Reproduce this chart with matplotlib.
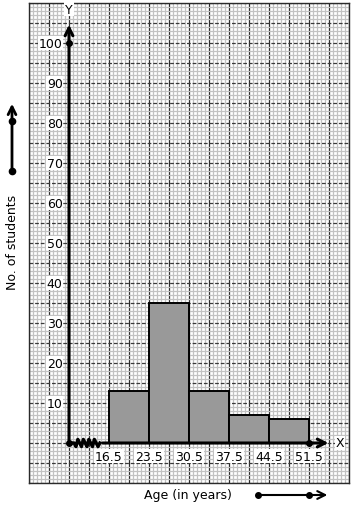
import numpy as np
import matplotlib
matplotlib.use("Agg")
import matplotlib.pyplot as plt

# データ
class_bounds = [16.5, 23.5, 30.5, 37.5, 44.5, 51.5]
frequencies = [13, 35, 13, 7, 6]
y_ticks = [10, 20, 30, 40, 50, 60, 70, 80, 90, 100]

W, H = 354, 510
fig = plt.figure(figsize=(W/100, H/100), dpi=100)
ax = fig.add_axes([29/W, 26/H, 320/W, 480/H])

x0 = class_bounds[0] - 7  # Y軸の位置
ax.set_xlim(x0 - 7, class_bounds[-1] + 7)
ax.set_ylim(-10, 110)

# 方眼紙
ax.set_xticks(np.arange(x0 - 7, class_bounds[-1] + 7.01, 3.5))
ax.set_xticks(np.arange(x0 - 7, class_bounds[-1] + 7.01, 0.7), minor=True)
ax.set_yticks(np.arange(-10, 110.1, 5))
ax.set_yticks(np.arange(-10, 110.1, 1), minor=True)
ax.grid(which="minor", color="#c2c2c2", lw=0.9)
ax.xaxis.grid(True, which="major", color="#2a2a2a", lw=0.9)
ax.yaxis.grid(True, which="major", color="#3a3a3a", lw=0.9, ls=(0, (3, 1.5)))
ax.tick_params(which="both", length=0, labelbottom=False, labelleft=False)
ax.set_axisbelow(True)
for s in ax.spines.values():
    s.set_color("#2a2a2a")
    s.set_linewidth(1.0)

# ヒストグラム
widths = np.diff(class_bounds)
ax.bar(class_bounds[:-1], frequencies, width=widths, align="edge",
       color="#999999", edgecolor="black", lw=1.4, zorder=3)

# 軸
ax.annotate("", xy=(x0, 105.3), xytext=(x0, 0),
            arrowprops=dict(arrowstyle="->", lw=2.2, color="black",
                            mutation_scale=14), zorder=5)
ax.annotate("", xy=(class_bounds[-1] + 3.9, 0), xytext=(14.9, 0),
            arrowprops=dict(arrowstyle="->", lw=2.2, color="black",
                            mutation_scale=14), zorder=5)
zx = np.linspace(x0 + 0.9, 14.9, 15)
zy = np.array([0, -0.9, 0.9] * 5)[:15]
zy[0] = 0
zy[-1] = 0
ax.plot(np.r_[x0, zx], np.r_[0, zy], color="black", lw=2.4, zorder=5)
ax.plot([x0, x0, class_bounds[-1]], [0, 100, 0], "ko", ms=4, zorder=6)

bb = dict(facecolor="white", edgecolor="none", pad=0.5)
for v in y_ticks:
    ax.annotate(str(v), (x0, v), xytext=(-4.5, 0), textcoords="offset points",
                ha="right", va="center", fontsize=9, bbox=bb, zorder=4)
for b in class_bounds:
    ax.annotate(str(b), (b, 0), xytext=(0, -9.5), textcoords="offset points",
                ha="center", va="center", fontsize=9, bbox=bb, zorder=4)
ax.text(x0, 108.5, "Y", ha="center", va="center", fontsize=9, bbox=bb, zorder=4)
ax.text(56.9, 0, "X", ha="center", va="center", fontsize=9, bbox=bb, zorder=4)

# 軸ラベルと矢印
ax.text(30.4, -13, "Age (in years)", ha="center", va="center", fontsize=9,
        clip_on=False)
ax.annotate("", xy=(55.2, -13), xytext=(42.6, -13), annotation_clip=False,
            arrowprops=dict(arrowstyle="->", lw=1.5, color="black",
                            mutation_scale=14))
ax.plot([42.6, 51.5], [-13, -13], "ko", ms=4, clip_on=False, zorder=5)

ax.text(-0.475, 50.3, "No. of students", rotation=90, ha="center",
        va="center", fontsize=9, clip_on=False)
ax.annotate("", xy=(-0.475, 85.5), xytext=(-0.475, 68), annotation_clip=False,
            arrowprops=dict(arrowstyle="->", lw=2, color="black",
                            mutation_scale=14))
ax.plot([-0.475, -0.475], [68, 80.5], "ko", ms=4.5, clip_on=False, zorder=5)

plt.savefig("out.png", dpi=100)
